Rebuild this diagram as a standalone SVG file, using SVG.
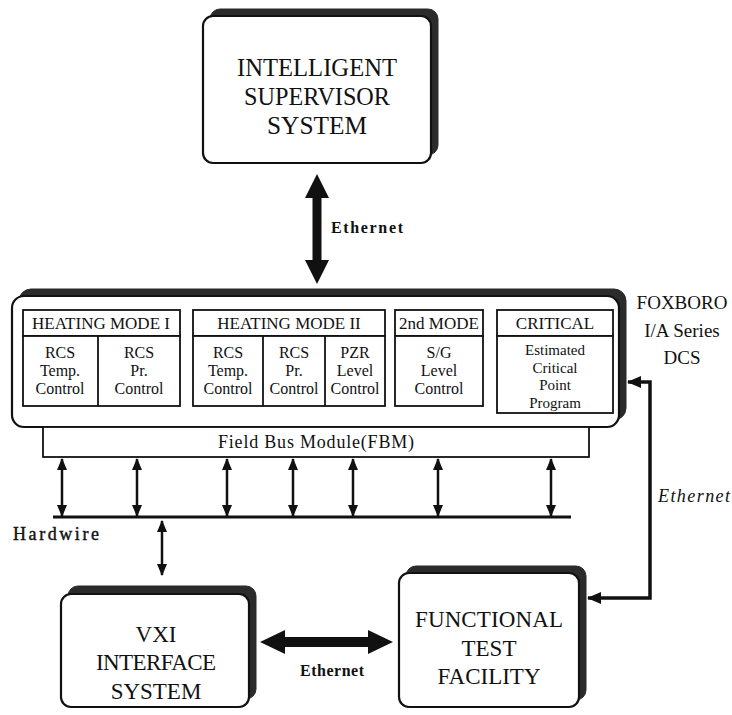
<svg xmlns="http://www.w3.org/2000/svg" width="732" height="715" viewBox="0 0 732 715">
<style>
.shadow{fill:#2b2b2b;stroke:#2b2b2b;stroke-width:1}
.box{fill:#fff;stroke:#111;stroke-width:2.2}
.sub{fill:#fff;stroke:#111;stroke-width:1.8}
text{font-family:"Liberation Serif","Times New Roman",serif;fill:#111}
.big{font-size:26px;text-anchor:middle}
.mid{font-size:23px;text-anchor:middle}
.hdr{font-size:17px;text-anchor:middle}
.cell{font-size:16px;text-anchor:middle}
.cell4{font-size:15px;text-anchor:middle}
.lbl{font-size:16px;font-weight:bold}
.side{font-size:19px;text-anchor:middle}
.thin{stroke:#111;stroke-width:2.5;fill:none;marker-start:url(#ah);marker-end:url(#ah)}
.thick{fill:#111}
.div{stroke:#111;stroke-width:1.8}
</style>
<defs>
<marker id="ah" viewBox="0 0 12 10" refX="11" refY="5" markerWidth="12" markerHeight="10" markerUnits="userSpaceOnUse" orient="auto-start-reverse"><path d="M0,0 L12,5 L0,10 z" fill="#111"/></marker>
<marker id="ah2" viewBox="0 0 14 12" refX="13" refY="6" markerWidth="14" markerHeight="12" markerUnits="userSpaceOnUse" orient="auto-start-reverse"><path d="M0,0 L14,6 L0,12 z" fill="#111"/></marker>
</defs>

<g id="iss">
<rect class="shadow" x="210" y="9" width="228" height="146" rx="10"/>
<rect class="box" x="203" y="16" width="228" height="147" rx="10"/>
<text class="big" x="317" y="76" textLength="160" lengthAdjust="spacingAndGlyphs">INTELLIGENT</text>
<text class="big" x="317" y="105" textLength="146" lengthAdjust="spacingAndGlyphs">SUPERVISOR</text>
<text class="big" x="317" y="134" textLength="100" lengthAdjust="spacingAndGlyphs">SYSTEM</text>
</g>

<g id="dcs">
<rect class="shadow" x="19" y="289" width="607" height="131" rx="12"/>
<rect class="box" x="12" y="296" width="607" height="131" rx="12"/>
<g id="hm1">
<rect class="sub" x="23" y="310" width="157" height="26"/>
<rect class="sub" x="23" y="336" width="157" height="70"/>
<line class="div" x1="98" y1="336" x2="98" y2="406"/>
<text class="hdr" x="101" y="329">HEATING MODE I</text>
<text class="cell" x="60" y="358">RCS</text>
<text class="cell" x="60" y="376">Temp.</text>
<text class="cell" x="60" y="394">Control</text>
<text class="cell" x="139" y="358">RCS</text>
<text class="cell" x="139" y="376">Pr.</text>
<text class="cell" x="139" y="394">Control</text>
</g>
<g id="hm2">
<rect class="sub" x="193" y="310" width="192" height="26"/>
<rect class="sub" x="193" y="336" width="192" height="70"/>
<line class="div" x1="263" y1="336" x2="263" y2="406"/>
<line class="div" x1="325" y1="336" x2="325" y2="406"/>
<text class="hdr" x="289" y="329">HEATING MODE II</text>
<text class="cell" x="228" y="358">RCS</text>
<text class="cell" x="228" y="376">Temp.</text>
<text class="cell" x="228" y="394">Control</text>
<text class="cell" x="294" y="358">RCS</text>
<text class="cell" x="294" y="376">Pr.</text>
<text class="cell" x="294" y="394">Control</text>
<text class="cell" x="355" y="358">PZR</text>
<text class="cell" x="355" y="376">Level</text>
<text class="cell" x="355" y="394">Control</text>
</g>
<g id="mode2">
<rect class="sub" x="395" y="310" width="88" height="26"/>
<rect class="sub" x="395" y="336" width="88" height="70"/>
<text class="hdr" x="439" y="329">2nd MODE</text>
<text class="cell" x="439" y="358">S/G</text>
<text class="cell" x="439" y="376">Level</text>
<text class="cell" x="439" y="394">Control</text>
</g>
<g id="critical">
<rect class="sub" x="497" y="310" width="116" height="26"/>
<rect class="sub" x="497" y="336" width="116" height="77"/>
<text class="hdr" x="555" y="329">CRITICAL</text>
<text class="cell4" x="555" y="355">Estimated</text>
<text class="cell4" x="555" y="372.5">Critical</text>
<text class="cell4" x="555" y="390">Point</text>
<text class="cell4" x="555" y="407.5">Program</text>
</g>
</g>

<g id="foxboro">
<text class="side" x="682" y="309">FOXBORO</text>
<text class="side" x="682" y="337">I/A Series</text>
<text class="side" x="682" y="364">DCS</text>
</g>

<g id="fbm">
<rect x="43" y="427" width="546" height="30" fill="#fff" stroke="#111" stroke-width="1.8"/>
<text x="316" y="448" font-size="18" text-anchor="middle" textLength="196">Field Bus Module(FBM)</text>
</g>

<g id="vxi">
<rect class="shadow" x="68" y="586" width="188" height="113" rx="10"/>
<rect class="box" x="61" y="594" width="188" height="113" rx="10"/>
<text class="mid" x="156" y="642">VXI</text>
<text class="mid" x="156" y="670" textLength="120">INTERFACE</text>
<text class="mid" x="156" y="699">SYSTEM</text>
</g>

<g id="ftf">
<rect class="shadow" x="406" y="566" width="180" height="134" rx="10"/>
<rect class="box" x="399" y="573" width="180" height="134" rx="10"/>
<text class="mid" x="489" y="627" textLength="148">FUNCTIONAL</text>
<text class="mid" x="489" y="656">TEST</text>
<text class="mid" x="489" y="684">FACILITY</text>
</g>

<g id="connectors">
<polygon class="thick" points="317,174 305,198 312.5,198 312.5,260 305,260 317,284 329,260 321.5,260 321.5,198 329,198"/>
<text class="lbl" x="331" y="233" textLength="72">Ethernet</text>

<line class="thin" x1="62" y1="459" x2="62" y2="516"/>
<line class="thin" x1="137" y1="459" x2="137" y2="516"/>
<line class="thin" x1="227" y1="459" x2="227" y2="516"/>
<line class="thin" x1="293" y1="459" x2="293" y2="516"/>
<line class="thin" x1="353" y1="459" x2="353" y2="516"/>
<line class="thin" x1="438" y1="459" x2="438" y2="516"/>
<line class="thin" x1="551" y1="459" x2="551" y2="516"/>
<line x1="53" y1="517" x2="571" y2="517" stroke="#111" stroke-width="3"/>
<text x="13" y="540" font-size="18" textLength="86" stroke="#111" stroke-width="0.4">Hardwire</text>
<line class="thin" x1="162" y1="521" x2="162" y2="575"/>

<polygon class="thick" points="260,642 285,630 285,637 368,637 368,630 393,642 368,654 368,647 285,647 285,654"/>
<text class="lbl" x="300" y="676" textLength="64">Ethernet</text>

<path d="M628,382 H650 V598 H588" fill="none" stroke="#111" stroke-width="3.5" marker-start="url(#ah2)" marker-end="url(#ah2)"/>
<text x="658" y="502" font-size="18" font-style="italic" textLength="72">Ethernet</text>
</g>
</svg>
